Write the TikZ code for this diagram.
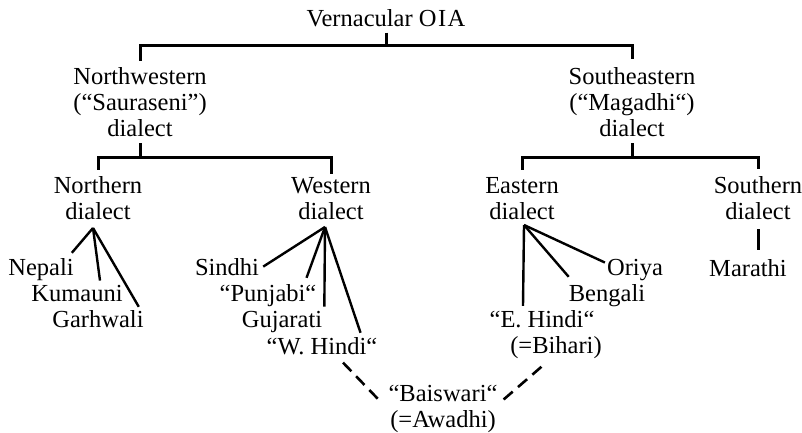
\documentclass[tikz,border=0pt]{standalone}
\usepackage{fontspec}
\setmainfont{Liberation Serif}
\begin{document}
\begin{tikzpicture}[x=1pt,y=-1pt,
  lbl/.style={font=\fontsize{24.5}{26}\selectfont, inner sep=0pt, align=center, anchor=base},
  bracket/.style={line width=3pt},
  fan/.style={line width=2.4pt},
  link/.style={line width=2.6pt, dash pattern=on 12pt off 7pt}]
\useasboundingbox (0,0) rectangle (802,432);

% family labels (a multi-line label is placed by its last baseline)
\node[lbl] (root) at (386,26) {Vernacular O\kern1.5pt I\kern1.5pt A};
\node[lbl] (nw) at (140,136) {Northwestern\\(``Sauraseni'')\\dialect};
\node[lbl] (se) at (632,136) {Southeastern\\(``Magadhi``)\\dialect};
\node[lbl] (nd) at (98,219) {Northern\\dialect};
\node[lbl] (wd) at (331,219) {Western\\dialect};
\node[lbl] (ed) at (522,219) {Eastern\\dialect};
\node[lbl] (sd) at (758,219) {Southern\\dialect};

% languages
\node[lbl] (nep) at (41,275) {Nepali};
\node[lbl] (kum) at (77,301) {Kumauni};
\node[lbl] (gar) at (98,327) {Garhwali};
\node[lbl] (sin) at (227,275) {Sindhi};
\node[lbl] (pun) at (268,301) {``Punjabi``};
\node[lbl] (guj) at (282,327) {Gujarati};
\node[lbl] (whi) at (322,354) {``W. Hindi``};
\node[lbl] (ori) at (635,275) {Oriya};
\node[lbl] (ben) at (607,301) {Bengali};
\node[lbl] (ehi) at (556,353) {``E. Hindi``\kern28pt\\(=Bihari)};
\node[lbl] (mar) at (748,276) {Marathi};
\node[lbl] (bai) at (443,427) {``Baiswari``\\(=Awadhi)};

% bracket: top split
\draw[bracket] ([yshift=-6pt]root.south) -- ([yshift=-19pt]root.south);
\draw[bracket] ([yshift=6pt]nw.north) |- ([yshift=-19pt]root.south) -| ([yshift=8pt]se.north);

% brackets: second split
\draw[bracket] ([yshift=-7pt]nw.south) -- ([yshift=-21pt]nw.south);
\draw[bracket] ([yshift=6pt]nd.north) |- ([yshift=-21pt]nw.south) -| ([yshift=3pt]wd.north);
\draw[bracket] ([yshift=-7pt]se.south) -- ([yshift=-21pt]se.south);
\draw[bracket] ([yshift=7pt]ed.north) |- ([yshift=-21pt]se.south) -| ([yshift=7pt]sd.north);

% fan apexes
\coordinate (na) at (93,228);
\coordinate (wa) at (325,227);
\coordinate (ea) at (524,225);

% northern fan
\draw[fan] (na) -- ([xshift=-2pt,yshift=5pt]nep.north east);
\draw[fan] (na) -- ([xshift=23pt,yshift=4pt]kum.north);
\draw[fan] (na) -- ([xshift=-5pt,yshift=3pt]gar.north east);

% western fan
\draw[fan] (wa) -- ([xshift=4pt]sin.east);
\draw[fan] (wa) -- ([xshift=-10pt,yshift=6pt]pun.north east);
\draw[fan] (wa) -- ([xshift=2pt,yshift=4pt]guj.north east);
\draw[fan] (wa) -- ([xshift=-17pt,yshift=4pt]whi.north east);

% eastern fan
\draw[fan] (ea) -- ([xshift=-33pt,yshift=4pt]ehi.north);
\draw[fan] (ea) -- ([yshift=7pt]ben.north west);
\draw[fan] (ea) -- ([xshift=-2pt,yshift=7pt]ori.west);

% southern line
\draw[bracket] ([yshift=-10pt]sd.south) -- ([xshift=10pt,yshift=9pt]mar.north);

% later contact
\draw[link] ([xshift=21pt,yshift=-8pt]whi.south) -- ([xshift=-8pt,yshift=-17pt]bai.north west);
\draw[link] ([xshift=6pt,yshift=-15pt]bai.north east) -- ([xshift=-13pt,yshift=-7pt]ehi.south);
\end{tikzpicture}
\end{document}
